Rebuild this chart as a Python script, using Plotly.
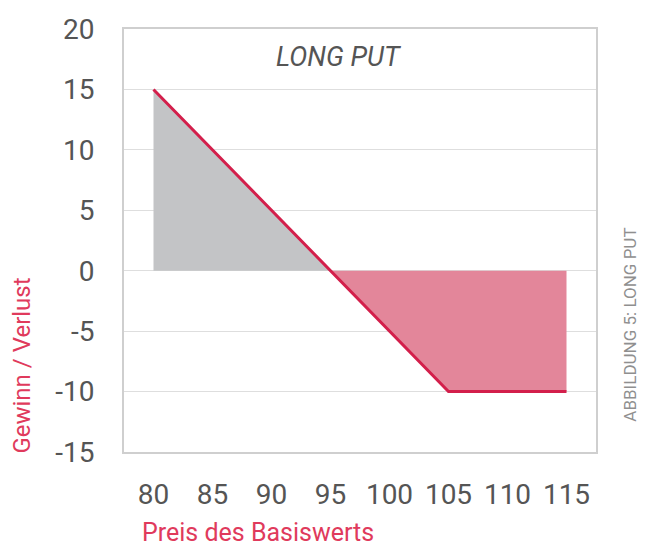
import plotly.graph_objects as go

# Data
payoff_x = [80, 95, 105, 115]
payoff_y = [15, 0, -10, -10]
gain_x = [80, 80, 95]
gain_y = [0, 15, 0]
loss_x = [95, 105, 115, 115]
loss_y = [0, -10, -10, 0]
x_ticks = [80, 85, 90, 95, 100, 105, 110, 115]
y_ticks = [-15, -10, -5, 0, 5, 10, 15, 20]
y_ticktext = ["-15", "-10", "-5", "0", "5", "10", "15", "20"]

RED = "#d31f4b"
fig = go.Figure()
fig.add_trace(go.Scatter(x=gain_x, y=gain_y, fill="toself", fillcolor="#c3c4c6",
                         line=dict(width=0), mode="lines", hoverinfo="skip"))
fig.add_trace(go.Scatter(x=loss_x, y=loss_y, fill="toself", fillcolor="#e3869a",
                         line=dict(width=0), mode="lines", hoverinfo="skip"))
fig.add_trace(go.Scatter(x=payoff_x, y=payoff_y, mode="lines",
                         line=dict(color=RED, width=3)))

fig.update_layout(
    width=650, height=547,
    margin=dict(l=124, r=54, t=29, b=95),
    plot_bgcolor="white", paper_bgcolor="white",
    showlegend=False,
    font=dict(family="Roboto", color="#555555"),
    xaxis=dict(range=[77.5, 117.5], tickvals=x_ticks, showgrid=False, zeroline=False,
               showline=True, mirror=True, linecolor="#cfcfcf", linewidth=2,
               tickfont=dict(size=28, color="#555555"), ticklabelstandoff=16),
    yaxis=dict(range=[-15, 20], tickvals=y_ticks, ticktext=y_ticktext, showgrid=True,
               gridcolor="#dedede", gridwidth=1, zeroline=False, showline=True, mirror=True,
               linecolor="#cfcfcf", linewidth=2,
               tickfont=dict(size=28, color="#555555"), ticklabelstandoff=22),
    annotations=[
        dict(text="<i>LONG PUT</i>", xref="paper", yref="paper", x=(338 - 124) / 472,
             y=1 - (57 - 29) / 423.5, showarrow=False, xanchor="center", yanchor="middle",
             font=dict(family="Roboto", size=27, color="#555555")),
        dict(text="Gewinn / Verlust", xref="paper", yref="paper", x=-(124 - 22) / 472,
             y=1 - (366 - 29) / 423.5, showarrow=False, textangle=-90,
             xanchor="center", yanchor="middle",
             font=dict(family="Roboto", size=24, color="#e03a5c")),
        dict(text="Preis des Basiswerts", xref="paper", yref="paper", x=(140 - 124) / 472,
             y=-(533 - 452.5) / 423.5, showarrow=False, xanchor="left", yanchor="middle",
             font=dict(family="Roboto", size=25, color="#e03a5c")),
        dict(text="ABBILDUNG 5: LONG PUT", xref="paper", yref="paper",
             x=1 + (630 - 596) / 472, y=1 - (325 - 29) / 423.5, showarrow=False,
             textangle=-90, xanchor="center", yanchor="middle",
             font=dict(family="Roboto", size=17, color="#8f8f8f")),
    ],
)

fig.write_html("out.html", config={"displayModeBar": False},
               post_script="document.body.style.margin='0';")
